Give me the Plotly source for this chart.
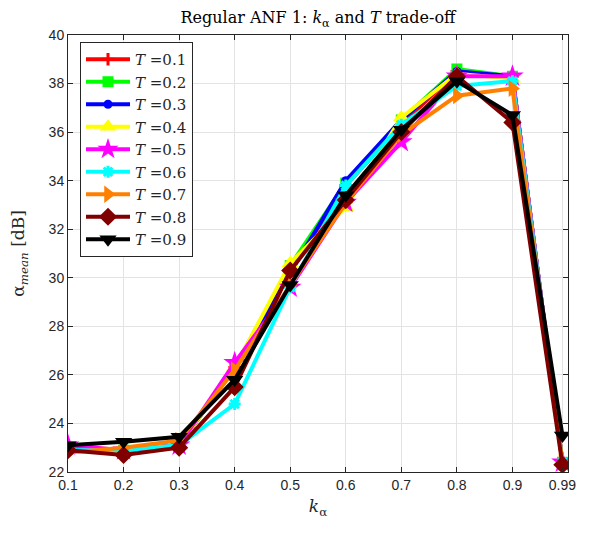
import plotly.graph_objects as go

k_alpha = [0.1, 0.2, 0.3, 0.4, 0.5, 0.6, 0.7, 0.8, 0.9, 0.99]
tick_labels = ["0.1", "0.2", "0.3", "0.4", "0.5", "0.6", "0.7", "0.8", "0.9", "0.99"]
T_values = ["0.1", "0.2", "0.3", "0.4", "0.5", "0.6", "0.7", "0.8", "0.9"]

alpha_T01 = [23.0, 22.9, 23.1, 26.3, 30.3, 33.8, 36.3, 38.5, 38.3, 22.4]
alpha_T02 = [23.0, 22.9, 23.1, 26.3, 30.5, 33.9, 36.5, 38.6, 38.3, 22.4]
alpha_T03 = [23.0, 22.9, 23.1, 26.3, 30.2, 34.0, 36.5, 38.5, 38.3, 22.4]
alpha_T04 = [23.1, 22.9, 23.1, 26.3, 30.6, 32.9, 36.6, 38.4, 38.2, 22.4]
alpha_T05 = [23.1, 22.9, 23.1, 26.5, 29.6, 33.1, 35.6, 38.3, 38.3, 22.4]
alpha_T06 = [22.9, 22.9, 23.1, 24.8, 29.6, 33.8, 36.3, 37.9, 38.1, 22.4]
alpha_T07 = [22.8, 23.0, 23.3, 26.2, 29.7, 33.1, 35.9, 37.5, 37.8, 22.4]
alpha_T08 = [22.9, 22.7, 23.0, 25.5, 30.3, 33.2, 36.0, 38.3, 36.4, 22.3]
alpha_T09 = [23.1, 23.25, 23.45, 25.8, 29.7, 33.4, 36.1, 38.1, 36.7, 23.5]

series = [alpha_T01, alpha_T02, alpha_T03, alpha_T04, alpha_T05,
          alpha_T06, alpha_T07, alpha_T08, alpha_T09]
colors = ["#FF0000", "#00FF00", "#0000FF", "#FFFF00", "#FF00FF",
          "#00FFFF", "#FF8000", "#800000", "#000000"]
symbols = ["cross-thin", "square", "circle", "triangle-up", "star",
           "asterisk", "triangle-right", "diamond", "triangle-down"]
sizes = [9, 11, 9, 15, 17, 10, 15, 14, 15]

fig = go.Figure()
for T, ys, c, s, sz in zip(T_values, series, colors, symbols, sizes):
    thin = s in ("cross-thin", "asterisk")
    fig.add_trace(go.Scatter(
        x=k_alpha, y=ys, mode="lines+markers",
        name="<i>T</i> =" + T,
        line=dict(color=c, width=4),
        marker=dict(symbol=s, size=sz, color=c,
                    line=dict(color=c, width=3 if thin else 0)),
    ))

axis_common = dict(
    showgrid=True, gridcolor="#E3E3E3", gridwidth=1,
    showline=True, linecolor="#262626", linewidth=1, mirror="ticks",
    ticks="inside", ticklen=5, tickcolor="#262626",
    tickfont=dict(family="Liberation Sans, Arial", size=14, color="#262626"),
    zeroline=False, automargin=False,
)

# Page body has an 8px default margin, so the figure is sized to fit the window.
fig.update_layout(
    width=582, height=525,
    margin=dict(l=60, r=22, t=27, b=61),
    paper_bgcolor="white", plot_bgcolor="white",
    title=dict(text="Regular ANF 1: <i>k</i><sub>α</sub> and <i>T</i> trade-off",
               x=(60 + 560) / 2 / 582, xanchor="center", y=1.0, yanchor="top",
               pad=dict(t=4),
               font=dict(family="DejaVu Serif, Liberation Serif", size=16, color="black")),
    xaxis=dict(range=[0.1, 1.0], tickmode="array", tickvals=k_alpha, ticktext=tick_labels,
               title=dict(text="<i>k</i><sub>α</sub>", standoff=8,
                          font=dict(family="DejaVu Serif, Liberation Serif", size=17, color="#262626")),
               **axis_common),
    yaxis=dict(range=[22, 40], dtick=2,
               title=dict(text="α<sub><i>mean</i></sub> [dB]", standoff=20,
                          font=dict(family="DejaVu Serif, Liberation Serif", size=17, color="#262626")),
               **axis_common),
    legend=dict(x=0.024, y=0.984, xanchor="left", yanchor="top",
                bgcolor="white", bordercolor="#262626", borderwidth=1,
                font=dict(family="DejaVu Serif, Liberation Serif", size=15, color="#262626"),
                itemwidth=44, tracegroupgap=0),
    showlegend=True,
)

fig.write_html("out.html")
